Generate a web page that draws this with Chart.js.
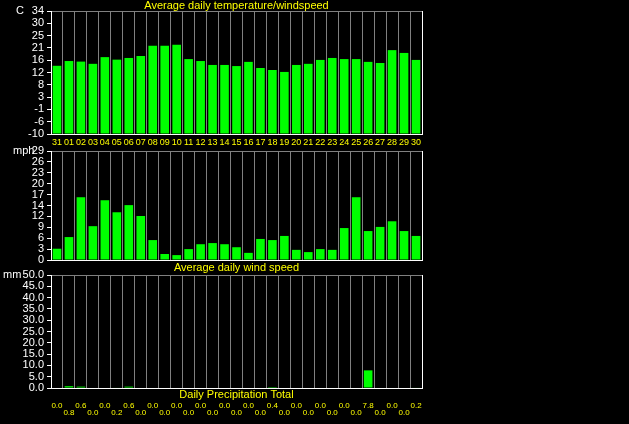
<!DOCTYPE html>
<html>
<head>
<meta charset="utf-8">
<script src="https://cdn.jsdelivr.net/npm/chart.js@4.4.0/dist/chart.umd.min.js"></script>
<style>
    html, body { margin: 0; padding: 0; background: #000; }
    body { width: 629px; height: 424px; position: relative; overflow: hidden; }
    canvas { position: absolute; left: 0; }
    #chartTemp { top: 0; }
    #chartWind { top: 140px; }
    #chartRain { top: 264px; }
</style>
</head>
<body>
<canvas id="chartTemp" width="430" height="150"></canvas>
<canvas id="chartWind" width="430" height="135"></canvas>
<canvas id="chartRain" width="430" height="160"></canvas>
<script>
const days = ['31', '01', '02', '03', '04', '05', '06', '07', '08', '09', '10', '11', '12', '13', '14', '15',
    '16', '17', '18', '19', '20', '21', '22', '23', '24', '25', '26', '27', '28', '29', '30'];

const tempValues = [14.4, 16.1, 15.9, 15.1, 17.5, 16.6, 17.2, 17.9, 21.6, 21.6, 21.9, 16.8, 16.1, 14.7, 14.7, 14.3,
    15.8, 13.6, 12.9, 12.2, 14.7, 15.1, 16.5, 17.2, 16.8, 16.8, 15.8, 15.4, 20.0, 19.0, 16.5];
const windValues = [3.0, 6.1, 16.7, 9.0, 15.9, 12.7, 14.6, 11.7, 5.3, 1.6, 1.3, 2.9, 4.2, 4.5, 4.2, 3.4,
    1.9, 5.6, 5.3, 6.4, 2.7, 2.1, 2.9, 2.7, 8.5, 16.7, 7.7, 8.8, 10.3, 7.7, 6.4];
const rainValues = [0.0, 0.8, 0.6, 0.0, 0.0, 0.2, 0.6, 0.0, 0.0, 0.0, 0.0, 0.0, 0.0, 0.0, 0.0, 0.0,
    0.0, 0.0, 0.4, 0.0, 0.0, 0.0, 0.0, 0.0, 0.0, 0.0, 7.8, 0.0, 0.0, 0.0, 0.2];

const tempTicks = ['-10', '-6', '-1', '3', '8', '12', '16', '21', '25', '30', '34'];
const windTicks = ['0', '3', '6', '9', '12', '14', '17', '20', '23', '26', '29'];
const rainTicks = ['0.0', '5.0', '10.0', '15.0', '20.0', '25.0', '30.0', '35.0', '40.0', '45.0', '50.0'];

const WHITE = '#ffffff';
const GRAY = '#808080';
const YELLOW = '#ffff00';
const GREEN = '#00ff00';

Chart.defaults.font.family = '"Liberation Sans", Arial, sans-serif';
Chart.defaults.font.size = 11;

// unidad (C, mph, mm) arriba a la izquierda del eje
const unitLabel = {
    id: 'unitLabel',
    afterDraw(chart, args, opts) {
        const ctx = chart.ctx;
        ctx.save();
        ctx.fillStyle = WHITE;
        ctx.font = '11px "Liberation Sans", Arial, sans-serif';
        ctx.textAlign = 'left';
        ctx.textBaseline = 'middle';
        ctx.fillText(opts.text, opts.x, chart.chartArea.top);
        ctx.restore();
    }
};

const yAxis = (labels, min, max) => ({
    min: min,
    max: max,
    afterBuildTicks: s => {
        s.ticks = labels.map((_, i) => ({ value: min + i * (max - min) / (labels.length - 1) }));
    },
    afterFit: s => { s.width = 51; },
    ticks: { color: WHITE, padding: 3, autoSkip: false, callback: (v, i) => labels[i] },
    border: { color: WHITE },
    grid: {
        color: c => c.index === labels.length - 1 ? GRAY : 'rgba(0,0,0,0)',
        tickColor: WHITE,
        tickLength: 4
    }
});

const xGrid = {
    offset: true,
    drawTicks: false,
    color: c => (c.type !== 'tick' || c.index === 0) ? WHITE : GRAY
};

const barSet = (values, base) => ({
    data: values,
    base: base,
    backgroundColor: GREEN,
    borderWidth: 0,
    categoryPercentage: 1,
    barPercentage: 0.72
});

const commonOptions = {
    responsive: false,
    animation: false,
    events: []
};

const chartTemp = new Chart(document.getElementById('chartTemp'), {
    type: 'bar',
    data: { labels: days, datasets: [barSet(tempValues, -10)] },
    options: {
        ...commonOptions,
        layout: { padding: { right: 8 } },
        plugins: {
            legend: { display: false },
            tooltip: { enabled: false },
            title: {
                display: true,
                text: 'Average daily temperature/windspeed',
                color: YELLOW,
                font: { size: 11, lineHeight: 1, weight: 'normal' },
                padding: 0,
                fullSize: false
            },
            unitLabel: { text: 'C', x: 16 }
        },
        scales: {
            x: {
                grid: xGrid,
                border: { color: WHITE },
                ticks: { color: YELLOW, font: { size: 9 }, padding: 3, autoSkip: false, maxRotation: 0, minRotation: 0 },
                afterFit: s => { s.height = 16; }
            },
            y: yAxis(tempTicks, -10, 34)
        }
    },
    plugins: [unitLabel]
});

const chartWind = new Chart(document.getElementById('chartWind'), {
    type: 'bar',
    data: { labels: days, datasets: [barSet(windValues, 0)] },
    options: {
        ...commonOptions,
        layout: { padding: { top: 11, right: 8 } },
        plugins: {
            legend: { display: false },
            tooltip: { enabled: false },
            unitLabel: { text: 'mph', x: 13 }
        },
        scales: {
            x: {
                grid: xGrid,
                border: { color: WHITE },
                ticks: { display: false },
                title: { display: true, text: 'Average daily wind speed', color: YELLOW, padding: 0 },
                afterFit: s => { s.height = 15; }
            },
            y: yAxis(windTicks, 0, 29)
        }
    },
    plugins: [unitLabel]
});

// valores de lluvia en dos filas alternadas bajo el eje
const rainLabels = rainValues.map((v, i) => i % 2 ? ['', v.toFixed(1)] : [v.toFixed(1), '']);

const chartRain = new Chart(document.getElementById('chartRain'), {
    type: 'bar',
    data: { labels: days, datasets: [barSet(rainValues, 0)] },
    options: {
        ...commonOptions,
        layout: { padding: { top: 11, right: 8 } },
        plugins: {
            legend: { display: false },
            tooltip: { enabled: false },
            unitLabel: { text: 'mm', x: 3 }
        },
        scales: {
            x: {
                weight: 0,
                grid: xGrid,
                border: { color: WHITE },
                ticks: { display: false },
                title: { display: true, text: 'Daily Precipitation Total', color: YELLOW, padding: 0 },
                afterFit: s => { s.height = 14; }
            },
            x2: {
                type: 'category',
                position: 'bottom',
                weight: 1,
                offset: true,
                labels: rainLabels,
                grid: { display: false, drawTicks: false },
                border: { display: false },
                ticks: { color: YELLOW, font: { size: 8, lineHeight: '7px' }, padding: 0, autoSkip: false, maxRotation: 0, minRotation: 0 },
                afterFit: s => { s.height = 22; }
            },
            y: yAxis(rainTicks, 0, 50)
        }
    },
    plugins: [unitLabel]
});
</script>
</body>
</html>
